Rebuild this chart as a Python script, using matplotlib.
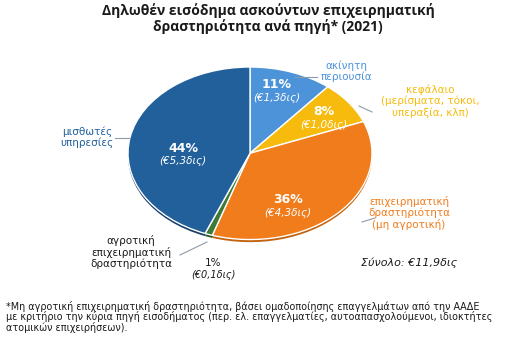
import matplotlib
matplotlib.use("Agg")
import matplotlib.pyplot as plt
from matplotlib.lines import Line2D

plt.rcParams['font.family'] = ['DejaVu Sans']

# income shares by source, 2021 (clockwise from 12 o'clock)
shares = [11, 8, 36, 1, 44]
amounts = ['€1,3δις', '€1,0δις', '€4,3δις', '€0,1δις', '€5,3δις']
colors = ['#4d93da', '#f6bb0c', '#f07c1c', '#3c7a35', '#22609c']
shadow = ['#3a75b0', '#c99a08', '#c2620f', '#2a5a25', '#173f68']
total = '€11,9δις'

W, H = 521, 337
fig = plt.figure(figsize=(W / 100, H / 100), dpi=100)


def px(x, y):
    return x / W, 1 - y / H


def ftext(x, y, s, **kw):
    kw.setdefault('ha', 'center')
    kw.setdefault('va', 'center')
    fig.text(*px(x, y), s, **kw)


def fline(x0, y0, x1, y1):
    a, b = px(x0, y0)
    c, d = px(x1, y1)
    fig.add_artist(Line2D([a, c], [b, d], transform=fig.transFigure,
                          color='#8c9aa8', lw=0.8))


# pie axes: ellipse centred at (250,155) px, radii 122 x 88
cx, cy, rx, ry = 250, 155, 122, 88
l, b = px(cx - rx, cy + ry)
ax = fig.add_axes([l, b, 2 * rx / W, 2 * ry / H])

# thin darker copy underneath for the tilted-disc rim
ax.pie(shares, colors=shadow, startangle=90, counterclock=False,
       center=(0, -0.03), radius=1,
       wedgeprops=dict(linewidth=0))
ax.pie(shares, colors=colors, startangle=90, counterclock=False,
       radius=1, wedgeprops=dict(edgecolor='white', linewidth=1.0))
ax.set_aspect('auto')
ax.set_xlim(-1, 1)
ax.set_ylim(-1.04, 1)
for p in ax.patches:
    p.set_clip_on(False)

# title
ttl = dict(fontsize=10, fontweight='bold', color='#1a1a1a',
           family=['Open Sans', 'DejaVu Sans'])
ftext(268, 11, 'Δηλωθέν εισόδημα ασκούντων επιχειρηματική', **ttl)
ftext(268, 27, 'δραστηριότητα ανά πηγή* (2021)', **ttl)

# values inside slices
inside = [(277, 85), (324, 112), (288, 200), None, (183, 148)]
for pos, s, a in zip(inside, shares, amounts):
    if pos is None:
        continue
    ftext(pos[0], pos[1], f'{s}%', fontsize=9, fontweight='bold', color='white')
    ftext(pos[0], pos[1] + 13, f'({a})', fontsize=7.5, style='italic', color='white')

# outer labels
lab = dict(fontsize=7.5, linespacing=1.1)
ftext(346, 71, 'ακίνητη\nπεριουσία', color=colors[0], **lab)
fline(295, 77, 317, 77)
ftext(430, 101, 'κεφάλαιο\n(μερίσματα, τόκοι,\nυπεραξία, κλπ)',
      color=colors[1], **lab)
fline(359, 106, 372, 112)
ftext(409, 213, 'επιχειρηματική\nδραστηριότητα\n(μη αγροτική)',
      color=colors[2], **lab)
fline(362, 222, 375, 218)
ftext(87, 137, 'μισθωτές\nυπηρεσίες', color=colors[4], **lab)
fline(115, 138, 130, 138)
ftext(131, 252, 'αγροτική\nεπιχειρηματική\nδραστηριότητα',
      color='#1a1a1a', **lab)
fline(180, 255, 207, 242)
ftext(213, 263, f'{shares[3]}%', fontsize=7.5, color='#1a1a1a')
ftext(213, 275, f'({amounts[3]})', fontsize=7, style='italic', color='#1a1a1a')

ftext(361, 263, f'Σύνολο: {total}', fontsize=8, style='italic',
      color='#1a1a1a', ha='left')

# footnote
ftext(6, 317, '*Μη αγροτική επιχειρηματική δραστηριότητα, βάσει ομαδοποίησης '
      'επαγγελμάτων από την ΑΑΔΕ\nμε κριτήριο την κύρια πηγή εισοδήματος '
      '(περ. ελ. επαγγελματίες, αυτοαπασχολούμενοι, ιδιοκτήτες\n'
      'ατομικών επιχειρήσεων).', fontsize=6.9, color='#1a1a1a', ha='left',
      linespacing=0.95)

fig.savefig('out.png', dpi=100)
